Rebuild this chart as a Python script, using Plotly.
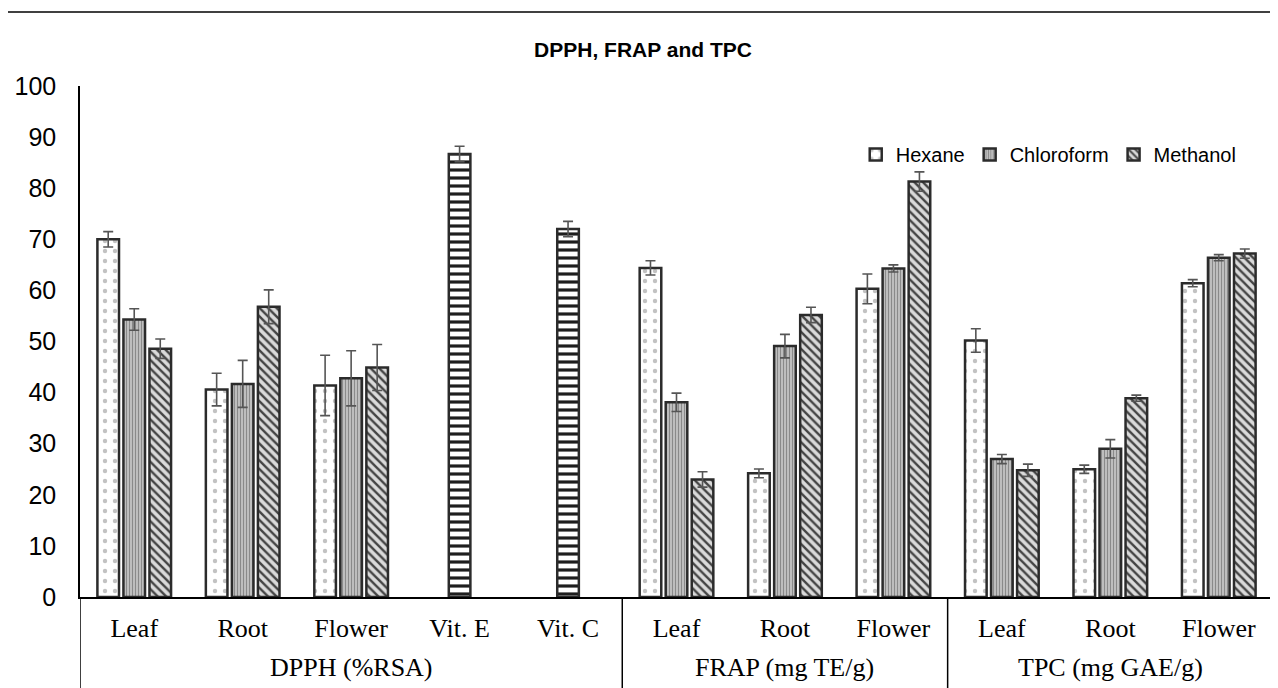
import plotly.graph_objects as go

# ---- data ----
categories = ["Leaf", "Root", "Flower", "Vit. E", "Vit. C",
              "Leaf", "Root", "Flower",
              "Leaf", "Root", "Flower"]
groups = ["DPPH (%RSA)"] * 5 + ["FRAP (mg TE/g)"] * 3 + ["TPC (mg GAE/g)"] * 3

hexane = [70.0, 40.6, 41.4, None, None, 64.4, 24.2, 60.3, 50.2, 25.0, 61.4]
hexane_err = [1.5, 3.2, 5.9, 0, 0, 1.4, 0.85, 2.9, 2.3, 0.8, 0.7]
chloroform = [54.3, 41.7, 42.8, None, None, 38.1, 49.1, 64.3, 27.0, 29.0, 66.4]
chloroform_err = [2.1, 4.6, 5.4, 0, 0, 1.8, 2.3, 0.7, 0.9, 1.8, 0.6]
methanol = [48.6, 56.8, 44.9, None, None, 23.0, 55.2, 81.3, 24.8, 38.9, 67.2]
methanol_err = [1.9, 3.3, 4.5, 0, 0, 1.5, 1.5, 1.9, 1.2, 0.6, 0.9]
standards = [None, None, None, 86.7, 72.0, None, None, None, None, None, None]
standards_err = [0, 0, 0, 1.5, 1.5, 0, 0, 0, 0, 0, 0]

y_ticks = [0, 10, 20, 30, 40, 50, 60, 70, 80, 90, 100]
title_text = "DPPH, FRAP and TPC"

# ---- figure ----
xpos = list(range(len(categories)))
SANS = "Liberation Sans, Arial, sans-serif"
SERIF = "Liberation Serif, Times New Roman, serif"

def bar(name, vals, errs, shape, bg, fg, size, solidity, group, legend=True):
    return go.Bar(
        name=name, x=xpos, y=vals, offsetgroup=group, showlegend=legend,
        marker=dict(
            color=bg,
            line=dict(color="#2b2b2b", width=2.5),
            pattern=dict(shape=shape, bgcolor=bg, fgcolor=fg, size=size,
                         solidity=solidity, fillmode="replace"),
        ),
        error_y=dict(type="data", array=errs, visible=True, color="#555555",
                     thickness=1.6, width=5),
    )

fig = go.Figure()
fig.add_trace(bar("Hexane", hexane, hexane_err, ".", "#ffffff", "#c2c2c2", 10, 0.15, "1"))
fig.add_trace(bar("Chloroform", chloroform, chloroform_err, "|", "#c4c4c4", "#8a8a8a", 3, 0.4, "2"))
fig.add_trace(bar("Methanol", methanol, methanol_err, "\\", "#dadada", "#444444", 6, 0.4, "3"))
fig.add_trace(bar("Standard", standards, standards_err, "-", "#ffffff", "#1e1e1e", 8, 0.4, "2", legend=False))

# group labels and dividers, derived from the group list
group_names = []
for g in groups:
    if g not in group_names:
        group_names.append(g)
annotations = []
shapes = []
for g in group_names:
    idx = [i for i, gg in enumerate(groups) if gg == g]
    center = (idx[0] + idx[-1]) / 2
    annotations.append(dict(x=center, xref="x", y=-0.138, yref="paper", text=g,
                            showarrow=False, yanchor="middle",
                            font=dict(family=SERIF, size=26, color="#000")))
    shapes.append(dict(type="line", xref="x", yref="paper", x0=idx[0] - 0.5,
                       x1=idx[0] - 0.5, y0=0, y1=-0.2,
                       line=dict(color="#000", width=1.5)))

# top rule line across the page
shapes.append(dict(type="line", xref="paper", yref="paper", x0=-0.07, x1=1.01,
                   y0=1.145, y1=1.145, line=dict(color="#000", width=1.5)))

fig.update_layout(
    width=1270, height=680,
    margin=dict(l=72, r=5, t=78, b=91),
    paper_bgcolor="white", plot_bgcolor="white",
    barmode="group", bargap=0.28, bargroupgap=0.17,
    title=dict(text="<b>" + title_text + "</b>", x=0.5, xref="container",
               xanchor="center", y=1 - 42 / 680, yref="container", yanchor="middle",
               font=dict(family=SANS, size=21, color="#000")),
    legend=dict(orientation="h", x=0.812, xanchor="center", y=0.866, yanchor="middle",
                font=dict(family=SANS, size=20, color="#000"),
                itemwidth=30, bgcolor="rgba(0,0,0,0)", traceorder="normal"),
    annotations=annotations,
    shapes=shapes,
    xaxis=dict(range=[-0.5, len(categories) - 0.5], tickmode="array",
               tickvals=xpos, ticktext=categories, showline=True,
               linecolor="#000", linewidth=1.5, ticks="outside", ticklen=7,
               tickcolor="rgba(0,0,0,0)", showgrid=False, zeroline=False,
               automargin=False,
               tickfont=dict(family=SERIF, size=26, color="#000")),
    yaxis=dict(range=[0, 100], tickmode="array", tickvals=y_ticks,
               showline=True, linecolor="#000", linewidth=1.5, ticks="outside",
               ticklen=17, tickcolor="rgba(0,0,0,0)",
               showgrid=False, zeroline=False, automargin=False,
               tickfont=dict(family=SANS, size=25, color="#000")),
)

fig.write_html("out.html")
